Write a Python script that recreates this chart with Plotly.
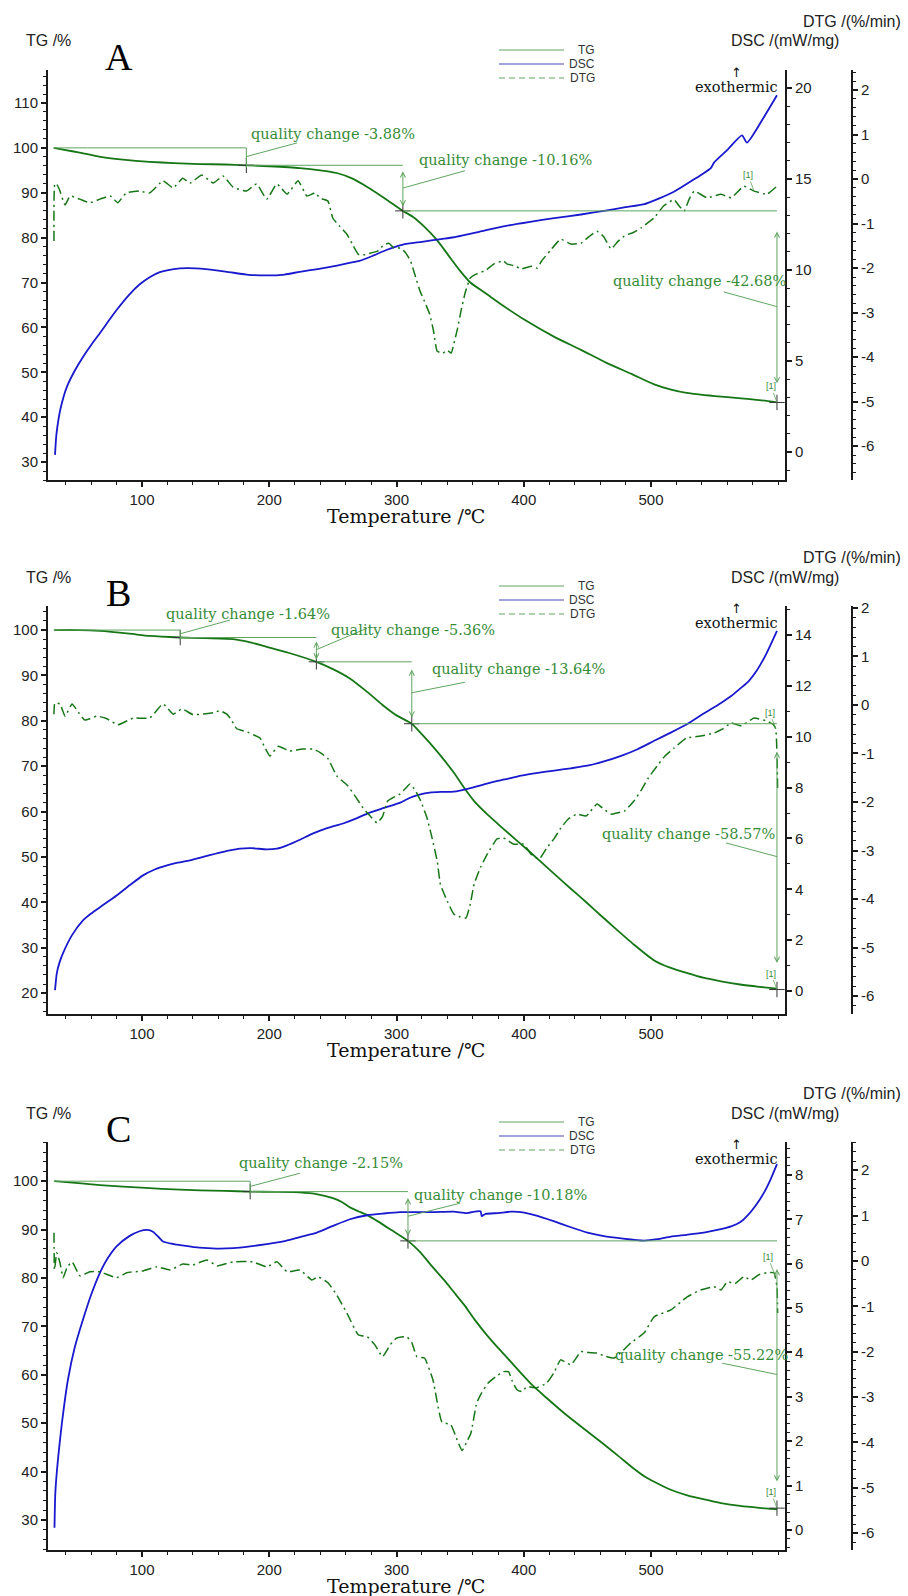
import plotly.graph_objects as go

W, H = 908, 1596
GREEN = 'rgb(22,118,22)'
BLUE = 'rgb(25,25,205)'
ANNO = 'rgb(95,165,95)'
ANNO_TXT = 'rgb(55,140,55)'
AXIS = '#1a1a1a'
SANS = 'Liberation Sans, Arial, sans-serif'
SERIF_W = 'DejaVu Serif, serif'
SERIF = 'Liberation Serif, Times New Roman, serif'

# ---------------- Panel A data ----------------
A_TG_T = [30.6, 40, 50, 67, 85, 106, 125, 145.5, 165, 182, 200, 224, 240, 253, 265, 277, 290, 305, 313, 322,
          332, 343, 350, 358, 370, 385, 400, 424, 445, 465, 485, 502.5, 515, 528, 550, 570.7, 585, 599]
A_TG = [100, 99.5, 99.0, 98.0, 97.4, 96.9, 96.6, 96.4, 96.3, 96.12, 95.9, 95.5, 95.0, 94.4, 93.2, 91.3, 88.9, 85.96,
        84.6, 82.4, 79.4, 75.2, 72.6, 70.0, 67.6, 64.6, 61.8, 57.9, 55.0, 52.1, 49.6, 47.3, 46.2, 45.4, 44.7, 44.2,
        43.8, 43.28]
A_DSC_T = [31.6, 32.5, 33.5, 36, 41, 47, 53.6, 60, 67, 73.5, 80, 90, 98, 106, 114, 125, 135, 150, 167, 182, 198,
           212, 224, 238, 250, 262, 271, 282, 292, 305, 320, 335, 345, 365, 384, 405, 424, 445, 463, 480, 494,
           507, 518, 532, 547, 549.5, 560, 571.5, 575.4, 587, 599]
A_DSC = [-0.16, 0.8, 1.4, 2.4, 3.59, 4.45, 5.22, 5.88, 6.54, 7.18, 7.8, 8.65, 9.2, 9.6, 9.88, 10.05, 10.1, 10.05,
         9.9, 9.75, 9.7, 9.75, 9.9, 10.05, 10.2, 10.38, 10.5, 10.8, 11.1, 11.4, 11.55, 11.7, 11.8, 12.1, 12.4,
         12.65, 12.85, 13.05, 13.25, 13.45, 13.6, 13.95, 14.3, 14.9, 15.6, 15.9, 16.6, 17.4, 17.0, 18.2, 19.6]
A_DTG_T = [30.8, 31.5, 33, 35, 39.5, 43.5, 51, 59, 67, 75, 81, 87.6, 98, 106, 116.5, 124.5, 132, 137.6, 147, 156,
           163.6, 171.5, 182, 190, 198, 206, 214, 222.6, 229.6, 236, 240, 246, 250, 255, 261, 266, 270, 275, 280, 285,
           290, 294, 298, 303, 307, 311, 315, 318.5, 322, 326, 329, 332, 336.5, 340, 343, 345, 348, 350.6, 354, 358,
           363, 370, 377, 384, 387, 393, 398, 406, 410.5, 414, 421, 429, 437, 445, 451, 457.5, 463, 468.6, 474, 479,
           486, 492, 502.5, 510, 518, 522, 526, 530, 534, 544, 555, 563, 573, 581, 591, 599]
A_DTG = [-1.39, -0.1, -0.12, -0.23, -0.58, -0.38, -0.45, -0.53, -0.45, -0.38, -0.53, -0.31, -0.27, -0.31, -0.04,
         -0.2, 0.02, -0.09, 0.09, -0.09, 0.07, -0.18, -0.27, -0.11, -0.45, -0.11, -0.34, -0.04, -0.38, -0.31,
         -0.43, -0.49, -0.88, -1.05, -1.24, -1.5, -1.69, -1.7, -1.66, -1.62, -1.48, -1.44, -1.55, -1.55, -1.65,
         -1.84, -2.2, -2.52, -2.75, -3.03, -3.4, -3.87, -3.91, -3.85, -3.91, -3.71, -3.35, -2.97, -2.55, -2.22,
         -2.13, -2.05, -1.9, -1.84, -1.91, -1.95, -2.02, -1.96, -2.0, -1.84, -1.6, -1.35, -1.46, -1.44, -1.3,
         -1.17, -1.3, -1.57, -1.4, -1.28, -1.2, -1.1, -0.87, -0.6, -0.46, -0.6, -0.72, -0.45, -0.27, -0.42,
         -0.34, -0.42, -0.16, -0.27, -0.34, -0.16]
A_STEP_T = [30.6, 182, 305, 599]
A_CHANGE = [-3.88, -10.16, -42.68]

# ---------------- Panel B data ----------------
B_TG_T = [31, 50, 67, 90, 106, 130, 150, 171.5, 185, 198, 215, 237, 250, 263, 276, 289, 300, 312, 320, 329,
          337, 345, 353, 361, 372, 384, 393, 402, 412, 423.5, 437, 450, 461, 471, 487, 502.5, 515, 528.5, 541, 555,
          570, 585, 599]
B_TG = [100, 100, 99.8, 99.2, 98.7, 98.36, 98.2, 98.0, 97.3, 96.3, 95.0, 93.0, 91.4, 89.4, 86.6, 83.5, 81.2, 79.36,
        77.0, 74.2, 71.5, 68.6, 65.3, 62.3, 59.2, 56.2, 54.0, 51.8, 49.3, 46.4, 43.0, 39.8, 37.0, 34.5, 30.6, 27.2,
        25.6, 24.4, 23.4, 22.6, 21.9, 21.4, 21.0]
B_DSC_T = [31.6, 32.3, 33, 35, 38, 45, 53.6, 60, 67, 80, 90, 100.8, 110, 119.6, 128, 137.6, 148, 158.5, 168, 177,
           186, 198, 206, 214, 224, 234.5, 246, 258, 268, 277, 290, 303, 310.6, 318, 326, 335, 345, 358, 371, 385,
           398, 411, 424, 437, 450, 463, 476.5, 489, 502.5, 515, 528.5, 541, 555, 563, 570.7, 577, 583, 591, 599]
B_DSC = [0.04, 0.4, 0.7, 1.1, 1.5, 2.2, 2.78, 3.05, 3.3, 3.76, 4.15, 4.55, 4.78, 4.94, 5.05, 5.14, 5.28, 5.41, 5.52,
         5.6, 5.62, 5.57, 5.6, 5.73, 5.95, 6.2, 6.42, 6.59, 6.78, 6.98, 7.2, 7.41, 7.6, 7.72, 7.8, 7.83, 7.84, 7.98,
         8.16, 8.32, 8.47, 8.58, 8.67, 8.76, 8.86, 9.03, 9.25, 9.5, 9.84, 10.15, 10.5, 10.9, 11.33, 11.6, 11.92,
         12.2, 12.59, 13.3, 14.16]
B_DTG_T = [30.8, 31.5, 35.5, 39.5, 45, 50, 55, 64.6, 72, 81, 93, 106, 116.5, 124.5, 131.4, 140, 150, 156, 161.3,
           166.7, 170, 174.5, 178, 183, 188, 192.7, 196, 200.5, 207, 216, 225.7, 234.5, 240, 246.2, 253, 261.8, 268,
           273.6, 279, 284.6, 289, 293, 298, 302.6, 307, 310.6, 314.5, 319, 324, 328, 332, 334.5, 340, 345, 350,
           354.6, 358, 361, 366, 371.4, 379, 384, 392, 400, 405.5, 412, 418, 424, 429, 435, 441.7, 449, 457.6, 463,
           468.6, 474, 479, 486.6, 492, 498, 504.7, 511, 518, 528, 539, 549.4, 556, 563, 571, 581, 591, 596, 598,
           599, 599.5]
B_DTG = [-0.19, 0.04, 0.02, -0.23, 0.02, -0.15, -0.31, -0.23, -0.28, -0.41, -0.27, -0.27, 0.02, -0.19, -0.08, -0.2,
         -0.18, -0.16, -0.12, -0.19, -0.3, -0.49, -0.52, -0.56, -0.62, -0.68, -0.85, -1.05, -0.85, -0.95, -0.91,
         -0.91, -0.98, -1.11, -1.46, -1.67, -1.9, -2.12, -2.28, -2.43, -2.3, -1.98, -1.9, -1.84, -1.72, -1.63, -1.75,
         -1.98, -2.33, -2.75, -3.22, -3.7, -4.05, -4.31, -4.37, -4.39, -4.1, -3.69, -3.35, -3.07, -2.76, -2.74,
         -2.87, -2.87, -3.07, -3.18, -2.95, -2.75, -2.54, -2.35, -2.25, -2.29, -2.04, -2.15, -2.25, -2.22, -2.19,
         -1.98, -1.77, -1.5, -1.26, -1.05, -0.89, -0.68, -0.64, -0.58, -0.5, -0.37, -0.43, -0.27, -0.33, -0.4,
         -0.49, -1.01, -1.71]
B_STEP_T = [30.6, 130, 237, 312, 599]
B_CHANGE = [-1.64, -5.36, -13.64, -58.57]

# ---------------- Panel C data ----------------
C_TG_T = [31, 50, 67, 85, 106, 125, 145.5, 165, 185, 205, 224, 238, 250, 257, 263.4, 270, 277, 286, 296, 309,
          318, 328.6, 337, 345, 353, 362, 371, 380, 387, 398, 406.5, 418, 431.6, 446, 460.7, 474, 486.6, 495, 502.5,
          515, 528.5, 541, 555, 570, 585, 599]
C_TG = [100, 99.6, 99.2, 98.9, 98.55, 98.3, 98.1, 98.0, 97.85, 97.8, 97.7, 97.3, 96.5, 95.7, 94.6, 93.8, 93.0, 91.6,
        89.9, 87.67, 85.5, 82.2, 79.7, 77.1, 74.5, 71.2, 68.2, 65.5, 63.5, 60.3, 57.9, 55.2, 52.1, 49.1, 46.1, 43.3,
        40.6, 39.0, 37.9, 36.3, 35.1, 34.3, 33.5, 32.9, 32.5, 32.2]
C_DSC_T = [31.2, 31.8, 33, 34.5, 37, 41.8, 47, 53.6, 60, 67, 73, 80, 90, 98, 104, 108.6, 113, 116.5, 125, 132,
           145, 158.6, 172, 185, 198, 211, 224, 237.5, 250, 263.4, 277, 290, 302.6, 315, 328.6, 345, 355, 366, 367,
           370, 380, 390, 398, 410, 424, 437, 450, 463, 476.5, 494.5, 505, 515.6, 528, 541.5, 552, 563, 570, 575.4,
           582, 588.8, 594, 599]
C_DSC = [0.05, 0.8, 1.3, 1.75, 2.4, 3.39, 4.1, 4.74, 5.3, 5.8, 6.12, 6.39, 6.62, 6.73, 6.76, 6.72, 6.6, 6.5, 6.44,
         6.41, 6.36, 6.34, 6.35, 6.39, 6.44, 6.5, 6.6, 6.7, 6.85, 7.0, 7.09, 7.13, 7.16, 7.16, 7.16, 7.17, 7.14,
         7.18, 7.07, 7.12, 7.14, 7.17, 7.16, 7.08, 6.95, 6.82, 6.7, 6.62, 6.57, 6.52, 6.55, 6.61, 6.65, 6.7, 6.76,
         6.84, 6.93, 7.07, 7.3, 7.6, 7.9, 8.24]
C_DTG_T = [30.8, 31.2, 33, 35.5, 38, 41, 45, 51.3, 59, 67, 80, 88, 100.8, 111.8, 122, 132, 140, 151, 159, 171.5,
           187, 198, 206, 214, 224, 233.4, 238.3, 246.1, 253, 261, 270, 277, 283, 289, 295, 300, 308, 312, 316, 322,
           328.6, 335.7, 342.7, 347, 351.5, 355, 358.5, 363, 367, 372, 378, 384, 388, 391, 394.7, 398.5, 402.5,
           409.6, 418, 424, 429, 437, 445, 451, 457.5, 464, 471, 477, 484, 494.5, 502.5, 515.6, 528.5, 539, 549.5,
           555, 560, 566, 573, 578.5, 585, 591, 596.6, 599, 599.5]
C_DTG = [0.62, -0.2, 0.18, -0.04, -0.37, -0.15, -0.02, -0.33, -0.24, -0.24, -0.37, -0.26, -0.22, -0.13, -0.2,
         -0.07, -0.09, 0.02, -0.11, -0.02, -0.02, -0.13, -0.02, -0.24, -0.2, -0.42, -0.35, -0.48, -0.75, -1.15,
         -1.63, -1.67, -1.85, -2.11, -1.85, -1.7, -1.67, -1.8, -2.11, -2.14, -2.62, -3.55, -3.61, -3.9, -4.18, -4.0,
         -3.79, -3.13, -2.9, -2.69, -2.55, -2.44, -2.44, -2.65, -2.84, -2.88, -2.77, -2.8, -2.69, -2.45, -2.18,
         -2.29, -2.0, -2.02, -2.03, -2.1, -2.14, -2.0, -1.81, -1.59, -1.23, -1.08, -0.79, -0.64, -0.57, -0.64,
         -0.46, -0.5, -0.35, -0.42, -0.3, -0.26, -0.26, -0.57, -1.15]
C_STEP_T = [30.6, 185, 309, 599]
C_CHANGE = [-2.15, -10.18, -55.22]

X_TICKS = [100, 200, 300, 400, 500]
LEGEND_NAMES = ['TG', 'DSC', 'DTG']

# ---------------- layout configuration ----------------
X_RANGE = [26.1, 605.3]
X_DOMAIN = [48 / W, 785 / W]
DTG_POS = 852 / W

panels = [
    dict(letter='A', top=70, bot=480,
         tg_t=A_TG_T, tg=A_TG, dsc_t=A_DSC_T, dsc=A_DSC, dtg_t=A_DTG_T, dtg=A_DTG,
         tg_range=[26.0, 117.35], tg_ticks=list(range(30, 111, 10)),
         dsc_range=[-1.54, 20.99], dsc_ticks=[0, 5, 10, 15, 20], dsc_minor=1,
         dtg_range=[-6.76, 2.45],
         steps=A_STEP_T, changes=A_CHANGE,
         label_pos=[(249.7, 103.1), (385.6, 97.3), (538.1, 70.4)],
         leader_end=[(221.8, 101.1), (353.8, 94.9), (557.3, 67.9)]),
    dict(letter='B', top=606, bot=1014,
         tg_t=B_TG_T, tg=B_TG, dsc_t=B_DSC_T, dsc=B_DSC, dtg_t=B_DTG_T, dtg=B_DTG,
         tg_range=[15.4, 105.3], tg_ticks=list(range(20, 101, 10)),
         dsc_range=[-0.9, 15.14], dsc_ticks=[0, 2, 4, 6, 8, 10, 12, 14], dsc_minor=1,
         dtg_range=[-6.37, 2.04],
         steps=B_STEP_T, changes=B_CHANGE,
         label_pos=[(182.9, 103.5), (312.9, 100.0), (395.9, 91.4), (529.4, 55.1)],
         leader_end=[(169.1, 102.2), (276.8, 100.4), (353.8, 88.5), (558.9, 53.1)]),
    dict(letter='C', top=1142, bot=1550,
         tg_t=C_TG_T, tg=C_TG, dsc_t=C_DSC_T, dsc=C_DSC, dtg_t=C_DTG_T, dtg=C_DTG,
         tg_range=[23.8, 108.1], tg_ticks=list(range(30, 101, 10)),
         dsc_range=[-0.45, 8.74], dsc_ticks=list(range(0, 9)), dsc_minor=0.2,
         dtg_range=[-6.37, 2.62],
         steps=C_STEP_T, changes=C_CHANGE,
         label_pos=[(240.6, 103.7), (382.1, 97.1), (540.0, 64.0)],
         leader_end=[(224.1, 101.65), (349.9, 95.45), (556.0, 62.4)]),
]
DTG_TICKS = list(range(-6, 3))


def pxx(x):
    return x / W


def pxy(y):
    return 1 - y / H


fig = go.Figure()
layout = dict(width=W, height=H, autosize=False, margin=dict(l=0, r=0, t=0, b=0),
              paper_bgcolor='white', plot_bgcolor='white', showlegend=False,
              template='none')
shapes = []
annotations = []

tickfont = dict(family=SANS, size=15, color='#222')


def axis_style(ticks, minor_dtick):
    return dict(showline=True, linecolor=AXIS, linewidth=2, ticks='outside', ticklen=5, tickwidth=1.5,
                tickcolor=AXIS, tickmode='array', tickvals=ticks, ticktext=[str(t) for t in ticks],
                tickfont=tickfont, showgrid=False, zeroline=False, automargin=False,
                minor=dict(ticks='outside', ticklen=3, tickwidth=1, tickcolor=AXIS, dtick=minor_dtick, tick0=0,
                           showgrid=False))


for i, p in enumerate(panels):
    n = i + 1
    xa = 'x' if n == 1 else f'x{n}'
    ytg = 'y' if n == 1 else f'y{3 * i + 1}'
    ydsc = f'y{3 * i + 2}'
    ydtg = f'y{3 * i + 3}'
    xkey = 'xaxis' if n == 1 else f'xaxis{n}'
    ytgkey = 'yaxis' if n == 1 else f'yaxis{3 * i + 1}'
    dom = [pxy(p['bot']), pxy(p['top'])]

    layout[xkey] = dict(domain=X_DOMAIN, range=X_RANGE, anchor=ytg, **axis_style(X_TICKS, 20))
    layout[ytgkey] = dict(domain=dom, range=p['tg_range'], anchor=xa, side='left',
                          **axis_style(p['tg_ticks'], 2))
    layout[f'yaxis{3 * i + 2}'] = dict(overlaying=ytg, range=p['dsc_range'], anchor=xa, side='right',
                                       **axis_style(p['dsc_ticks'], p['dsc_minor']))
    layout[f'yaxis{3 * i + 3}'] = dict(overlaying=ytg, range=p['dtg_range'], anchor='free', position=DTG_POS,
                                       side='right', **axis_style(DTG_TICKS, 0.2))

    fig.add_trace(go.Scatter(x=p['dtg_t'], y=p['dtg'], xaxis=xa, yaxis=ydtg, mode='lines', name='DTG',
                             line=dict(color=GREEN, width=1.5, dash='10px,4px,2px,4px', shape='spline',
                                       smoothing=0.4)))
    fig.add_trace(go.Scatter(x=p['dsc_t'], y=p['dsc'], xaxis=xa, yaxis=ydsc, mode='lines', name='DSC',
                             line=dict(color=BLUE, width=1.8, shape='spline', smoothing=0.6)))
    fig.add_trace(go.Scatter(x=p['tg_t'], y=p['tg'], xaxis=xa, yaxis=ytg, mode='lines', name='TG',
                             line=dict(color=GREEN, width=1.8, shape='spline', smoothing=0.6)))

    levels = [100.0]
    for c in p['changes']:
        levels.append(levels[-1] + c)
    steps = p['steps']
    nstep = len(p['changes'])
    for k in range(nstep):
        t0, t1 = steps[k], steps[k + 1]
        lv0, lv1 = levels[k], levels[k + 1]
        shapes.append(dict(type='line', xref=xa, yref=ytg, x0=t0, x1=t1, y0=lv0, y1=lv0,
                           line=dict(color=ANNO, width=1)))
        span = lv0 - lv1
        if k == 0:
            shapes.append(dict(type='line', xref=xa, yref=ytg, x0=t1, x1=t1, y0=lv0, y1=lv1 - 0.6,
                               line=dict(color=ANNO, width=1)))
        else:
            gap = 0.1 * span
            annotations.append(dict(x=t1, y=lv1 + gap, ax=t1, ay=lv0 - gap, xref=xa, yref=ytg,
                                    axref=xa, ayref=ytg, text='', showarrow=True, arrowhead=5,
                                    arrowside='end+start', arrowsize=1, arrowwidth=1, arrowcolor=ANNO,
                                    standoff=0, startstandoff=0))
        mid = (lv0 + lv1) / 2
        le = p['leader_end'][k]
        shapes.append(dict(type='line', xref=xa, yref=ytg, x0=t1, y0=mid, x1=le[0], y1=le[1],
                           line=dict(color=ANNO, width=1)))
        lp = p['label_pos'][k]
        annotations.append(dict(x=lp[0], y=lp[1], xref=xa, yref=ytg, showarrow=False,
                                text=f'quality change {p["changes"][k]:.2f}%',
                                font=dict(family=SERIF_W, size=14.5, color=ANNO_TXT),
                                xanchor='center', yanchor='middle'))
    fig.add_trace(go.Scatter(x=steps[1:], y=levels[1:], xaxis=xa, yaxis=ytg, mode='markers',
                             marker=dict(symbol='cross-thin', size=11, line=dict(width=1, color='#333'))))
    annotations.append(dict(x=steps[-1], y=levels[-1], xref=xa, yref=ytg, text='[1]', showarrow=True,
                            arrowhead=0, arrowwidth=0.8, arrowcolor=ANNO, ax=-6, ay=-16,
                            font=dict(family=SANS, size=9, color=ANNO_TXT)))
    annotations.append(dict(x=p['dtg_t'][-3], y=p['dtg'][-3], xref=xa, yref=ydtg, text='[1]', showarrow=True,
                            arrowhead=0, arrowwidth=0.8, arrowcolor=ANNO, ax=-6, ay=-16,
                            font=dict(family=SANS, size=9, color=ANNO_TXT)))

    top, bot = p['top'], p['bot']
    annotations.append(dict(x=pxx(48), y=pxy(top - 29), xref='paper', yref='paper', text='TG /%',
                            showarrow=False, font=dict(family=SANS, size=16, color='#222'),
                            xanchor='center', yanchor='middle'))
    annotations.append(dict(x=pxx(785), y=pxy(top - 29), xref='paper', yref='paper', text='DSC /(mW/mg)',
                            showarrow=False, font=dict(family=SANS, size=16, color='#222'),
                            xanchor='center', yanchor='middle'))
    annotations.append(dict(x=pxx(852), y=pxy(top - 49), xref='paper', yref='paper', text='DTG /(%/min)',
                            showarrow=False, font=dict(family=SANS, size=16, color='#222'),
                            xanchor='center', yanchor='middle'))
    annotations.append(dict(x=pxx(119), y=pxy(top - 13), xref='paper', yref='paper', text=p['letter'],
                            showarrow=False, font=dict(family=SERIF, size=38, color='black'),
                            xanchor='center', yanchor='middle'))
    annotations.append(dict(x=pxx(736), y=pxy(top + 17), xref='paper', yref='paper', text='exothermic',
                            showarrow=False, font=dict(family=SERIF_W, size=14.5, color='#111'),
                            xanchor='center', yanchor='middle'))
    annotations.append(dict(x=pxx(736), y=pxy(top + 2), xref='paper', yref='paper', text='↑',
                            showarrow=False, font=dict(family='DejaVu Sans', size=13, color='#111'),
                            xanchor='center', yanchor='middle'))
    annotations.append(dict(x=pxx(406), y=pxy(bot + 36), xref='paper', yref='paper', text='Temperature /℃',
                            showarrow=False, font=dict(family=SERIF_W, size=19, color='#111'),
                            xanchor='center', yanchor='middle'))
    leg_styles = [(ANNO, 'solid'), ('rgb(70,70,190)', 'solid'), (ANNO, '6px,4px')]
    for j, name in enumerate(LEGEND_NAMES):
        ly = top - 20 + 14 * j
        shapes.append(dict(type='line', xref='paper', yref='paper', x0=pxx(499), x1=pxx(564),
                           y0=pxy(ly), y1=pxy(ly), line=dict(color=leg_styles[j][0], width=1.2,
                                                             dash=leg_styles[j][1])))
        annotations.append(dict(x=pxx(597), y=pxy(ly), xref='paper', yref='paper', text=name,
                                showarrow=False, font=dict(family=SANS, size=12, color='#333'),
                                xanchor='right', yanchor='middle'))

layout['shapes'] = shapes
layout['annotations'] = annotations
fig.update_layout(**layout)
fig.write_html('out.html', config=dict(displayModeBar=False))
